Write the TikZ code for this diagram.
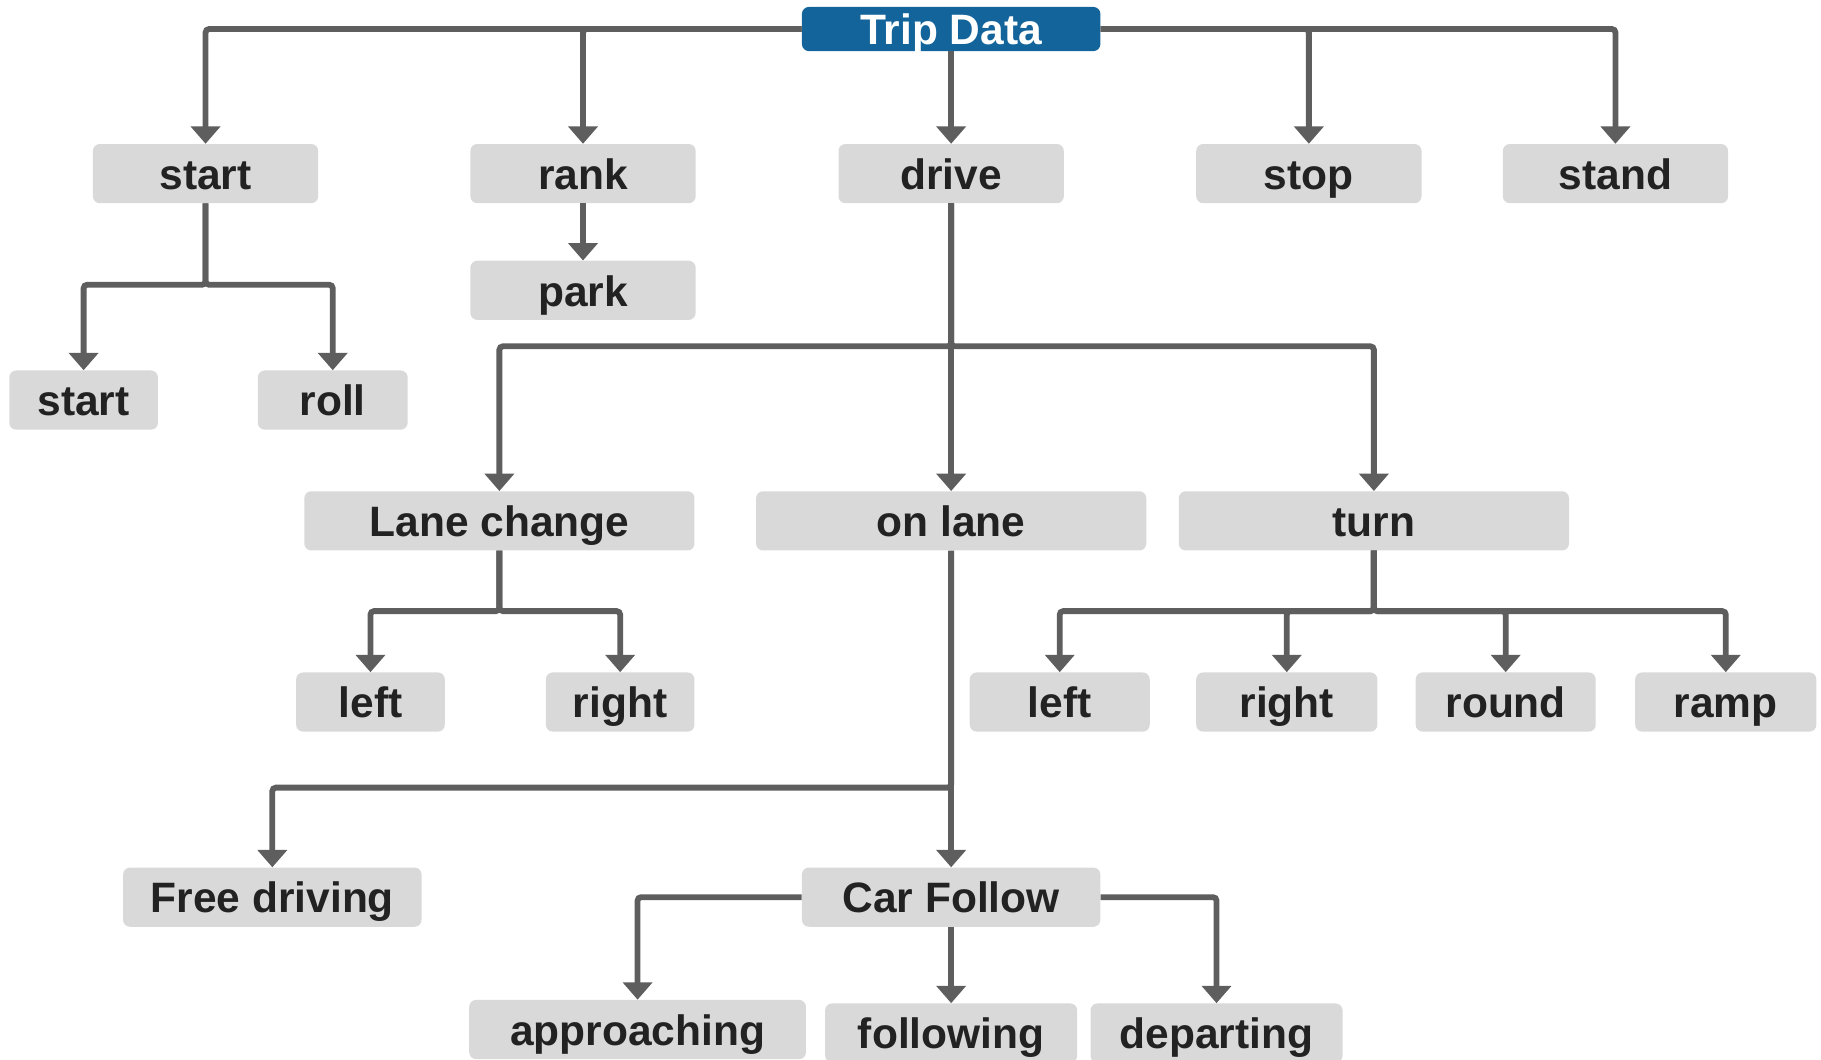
\documentclass[tikz,border=0pt]{standalone}
\usepackage{fontspec}
\setmainfont{Liberation Sans}
\usetikzlibrary{arrows.meta}
\definecolor{boxgray}{HTML}{D9D9D9}
\definecolor{linegray}{HTML}{5E5E5E}
\definecolor{txtdark}{HTML}{222222}
\definecolor{tripblue}{HTML}{14649C}
\begin{document}
\begin{tikzpicture}[x=1pt,y=-1pt,
  box/.style={fill=boxgray,rounded corners=6pt,minimum height=51pt,inner sep=0pt,
    text height=27pt,text depth=0pt,text=txtdark,font=\fontsize{36.6}{40}\selectfont\bfseries},
  rootbox/.style={box,fill=tripblue,text=white,minimum height=38pt},
  conn/.style={draw=linegray,line width=5pt,rounded corners=3pt,
    -{Triangle[width=25pt,length=15pt]}}]
\useasboundingbox (0,0) rectangle (1568,912);
\clip (0,0) rectangle (1568,912);
% nodes
\node[rootbox,minimum width=257pt] (trip) at (819,25) {Trip Data};
\node[box,minimum width=194pt] (start) at (177,149.5) {start};
\node[box,minimum width=194pt] (rank) at (502,149.5) {rank};
\node[box,minimum width=194pt] (drive) at (819,149.5) {drive};
\node[box,minimum width=194pt] (stop) at (1127,149.5) {stop};
\node[box,minimum width=194pt] (stand) at (1391,149.5) {stand};
\node[box,minimum width=194pt] (park) at (502,250) {park};
\node[box,minimum width=128pt] (startb) at (72,344.5) {start};
\node[box,minimum width=129pt] (roll) at (286.5,344.5) {roll};
\node[box,minimum width=336pt] (lane) at (430,448.5) {Lane change};
\node[box,minimum width=336pt] (onlane) at (819,448.5) {on lane};
\node[box,minimum width=336pt] (turn) at (1183,448.5) {turn};
\node[box,minimum width=128pt] (lleft) at (319,604.5) {left};
\node[box,minimum width=128pt] (lright) at (534,604.5) {right};
\node[box,minimum width=155pt] (tleft) at (912.5,604.5) {left};
\node[box,minimum width=156pt] (tright) at (1108,604.5) {right};
\node[box,minimum width=155pt] (tround) at (1296.5,604.5) {round};
\node[box,minimum width=156pt] (tramp) at (1486,604.5) {ramp};
\node[box,minimum width=257pt] (free) at (234.5,772.5) {Free driving};
\node[box,minimum width=257pt] (cf) at (819,772.5) {Car Follow};
\node[box,minimum width=290pt] (appr) at (549,886.5) {approaching};
\node[box,minimum width=217pt] (foll) at (819,889.5) {following};
\node[box,minimum width=217pt] (dep) at (1047.5,889.5) {departing};
% connectors from Trip Data
\draw[conn] (trip.west) -| (start.north);
\draw[conn] (trip.west) -| (rank.north);
\draw[conn] (trip.east) -| (stop.north);
\draw[conn] (trip.east) -| (stand.north);
\draw[conn] (trip.south) -- (drive.north);
% start
\draw[conn] (start.south) -- ++(0,70) -| (startb.north);
\draw[conn] (start.south) -- ++(0,70) -| (roll.north);
% rank
\draw[conn] (rank.south) -- (park.north);
% drive
\draw[conn] (drive.south) -- (onlane.north);
\draw[conn] (drive.south) -- ++(0,123) -| (lane.north);
\draw[conn] (drive.south) -- ++(0,123) -| (turn.north);
% lane change
\draw[conn] (lane.south) -- ++(0,52) -| (lleft.north);
\draw[conn] (lane.south) -- ++(0,52) -| (lright.north);
% turn
\draw[conn] (turn.south) -- ++(0,52) -| (tleft.north);
\draw[conn] (turn.south) -- ++(0,52) -| (tright.north);
\draw[conn] (turn.south) -- ++(0,52) -| (tround.north);
\draw[conn] (turn.south) -- ++(0,52) -| (tramp.north);
% on lane
\draw[conn] (onlane.south) -- (cf.north);
\draw[conn] (onlane.south) -- ++(0,204) -| (free.north);
% car follow
\draw[conn] (cf.west) -| (appr.north);
\draw[conn] (cf.east) -| (dep.north);
\draw[conn] (cf.south) -- (foll.north);
\end{tikzpicture}
\end{document}
